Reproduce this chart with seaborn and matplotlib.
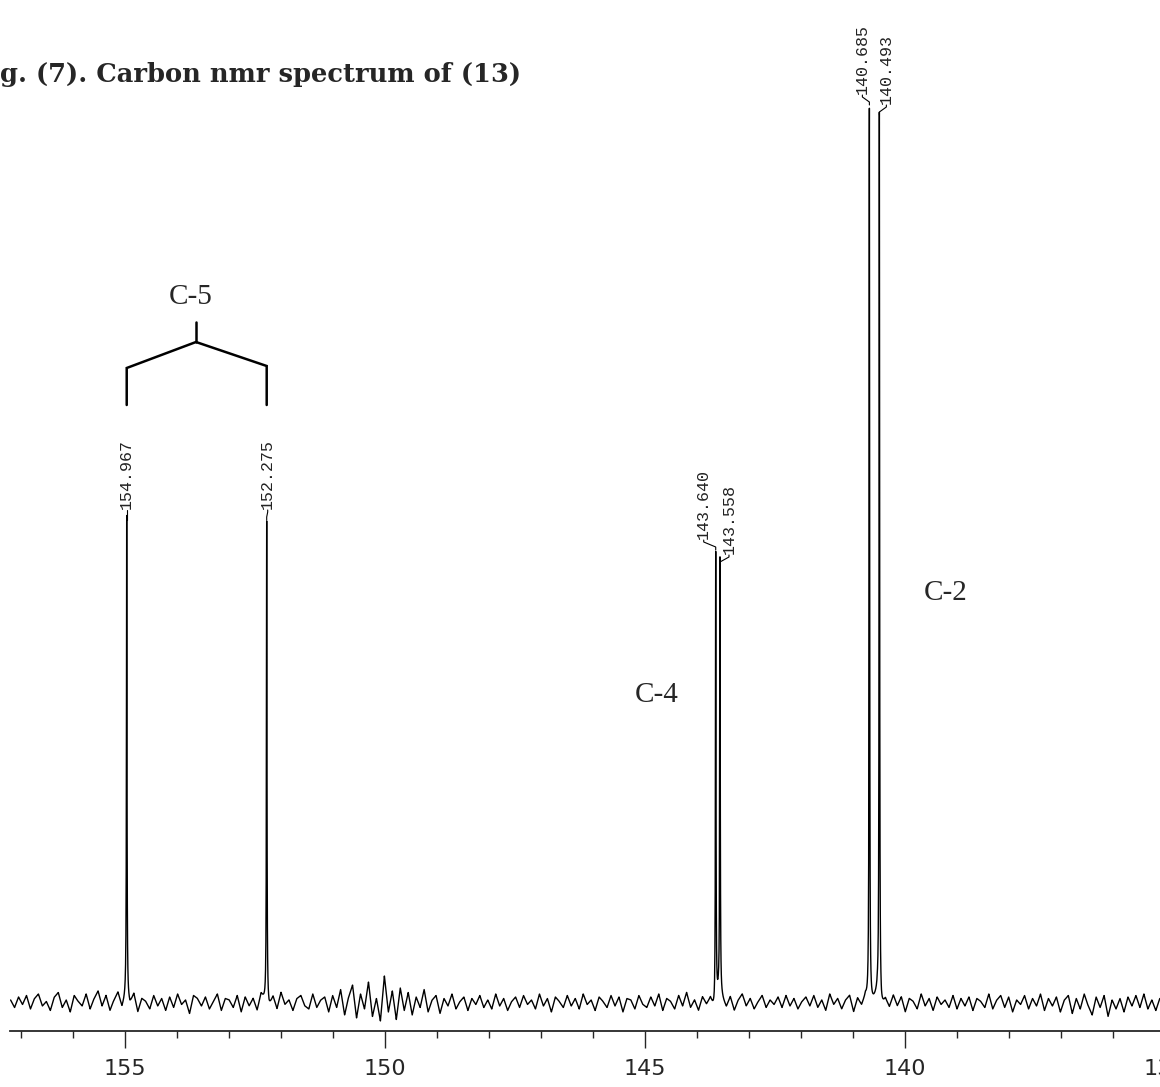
import numpy as np
import pandas as pd
import matplotlib
matplotlib.use("Agg")
import matplotlib.pyplot as plt
from matplotlib.ticker import FixedLocator, MultipleLocator
import seaborn as sns

# ---- data -------------------------------------------------------------
# chemical shifts (ppm) and heights of the resolved lines
peak_ppm = [154.967, 152.275, 143.640, 143.558, 140.685, 140.493]
peak_height = [483, 483, 453, 438, 898, 888]
peak_group = ["C-5", "C-5", "C-4", "C-4", "C-2", "C-2"]

# baseline noise, sampled evenly from 157.2 to 135.1 ppm
noise = [
    2, -3, 4, -1, 5, -4, 3, 6, -2, 1, -5, 4, 7, -3, 2, -6, 5, 1, -2, 6,
    -4, 3, 8, -2, 5, -5, 2, 7, -3, 4, -1, 6, -6, 3, 1, -4, 5, -2, 3, -5,
    4, -3, 6, -1, 2, -7, 5, 3, -2, 4, -4, 1, 6, -5, 3, 2, -3, 5, -6, 4,
    -2, 3, -5, 6, 1, -3, 4, -4, 7, -1, 2, -5, 3, 5, -2, -4, 6, -3, 2, 4,
    -6, 5, -3, 9, -8, 4, 12, -10, 6, -4, 14, -9, 3, -12, 18, -6, 8, -11, 10, -5,
    7, -8, 4, -3, 9, -6, 2, 5, -7, 3, -2, 6, -4, 1, 4, -5, 3, -1, 5, -3,
    2, -4, 6, -2, 3, -5, 1, 4, -3, 5, -1, 2, -4, 6, -2, 3, -6, 4, 1, -3,
    5, -2, 3, -4, 6, -1, 2, -5, 4, 1, -3, 5, -2, 4, -6, 3, 2, -4, 5, -1,
    -3, 4, -2, 6, -5, 3, 1, -4, 5, -2, 7, -3, 2, -5, 4, -1, 3, -6, 5, 2,
    -3, 4, -5, 2, 6, -2, 3, -4, 1, 5, -3, 2, -1, 4, -3, 5, -2, 3, -4, 1,
    4, -2, 5, -3, 2, -5, 6, -1, 3, -4, 2, 5, -6, 3, -2, 4, -3, 1, 6, -4,
    2, -3, 5, -2, 4, -6, 3, 1, -4, 6, -2, 3, -5, 4, -1, 2, -3, 5, -4, 3,
    -2, 4, -5, 3, 1, -3, 6, -4, 2, 5, -3, 4, -6, 2, -1, 5, -4, 3, -2, 6,
    -5, 3, -2, 4, -6, 2, 5, -7, 3, -4, 6, -2, -8, 4, -3, 5, -9, 2, -4, 3,
    -6, 4, -2, 5, -3, 6, -4, 2, -5, 3,
]
noise_scale = 1.5
baseline_level = 28

tick_major = [155, 150, 145, 140, 135]
tick_labels = ["155", "150", "145", "140", "135"]

title_text = "g. (7). Carbon nmr spectrum of (13)"

# ---- build the trace --------------------------------------------------
noise_x = np.linspace(157.2, 135.1, len(noise))
grid = np.union1d(np.linspace(157.2, 135.1, 24000), peak_ppm)
width = 0.006
signal = np.full_like(grid, float(baseline_level))
signal += noise_scale * np.interp(grid, noise_x[::-1],
                                  np.array(noise, float)[::-1])
for p, h in zip(peak_ppm, peak_height):
    signal += h * width**2 / ((grid - p) ** 2 + width**2)
spec = pd.DataFrame({"ppm": grid, "intensity": signal})

# ---- figure -----------------------------------------------------------
sns.set_style("white")
plt.rcParams["font.family"] = ["DejaVu Sans"]

W, H = 1160, 1087
fig = plt.figure(figsize=(W / 100, H / 100), dpi=100)
ax = fig.add_axes([10 / W, 56 / H, 1165 / W, 1031 / H])


def X(px):
    return 155 - (px - 125) / 52


def Y(py):
    return 1031 - py


ax.set_xlim(X(10), X(1175))
ax.set_ylim(0, 1031)

sns.lineplot(data=spec, x="ppm", y="intensity", ax=ax, color="black",
             linewidth=1.0, sort=False, estimator=None)

for s in ["top", "left", "right"]:
    ax.spines[s].set_visible(False)
ax.spines["bottom"].set_linewidth(1.3)
ax.set_yticks([])
ax.set_xlabel("")
ax.set_ylabel("")
ax.xaxis.set_major_locator(FixedLocator(tick_major))
ax.set_xticklabels(tick_labels)
ax.xaxis.set_minor_locator(MultipleLocator(1))
ax.tick_params(axis="x", which="major", length=12, width=1.0, pad=8,
               labelsize=16, bottom=True)
ax.tick_params(axis="x", which="minor", length=5, width=1.0, bottom=True)

# ---- peak labels ------------------------------------------------------
label_dx = [0, 1, -12, 9, -7, 7]
for p, h, dx in zip(peak_ppm, peak_height, label_dx):
    top = baseline_level + h
    px = 125 + (155 - p) * 52
    ax.plot([p, p, X(px + dx), X(px + dx)],
            [top, top + 3, top + 8, top + 10], color="black", lw=0.8)
    ax.text(X(px + dx), top + 11, f"{p:.3f}", rotation=90, ha="center",
            va="bottom", fontsize=12, family="Liberation Mono",
            color="#222222")

# bracket over the C-5 pair
xl, xr = peak_ppm[0], peak_ppm[1]
xm = X(196)
ax.plot([xl, xl, xm, xr, xr], [Y(405), Y(368), Y(342), Y(366), Y(405)],
        color="black", lw=1.8, solid_joinstyle="miter")
ax.plot([xm, xm], [Y(342), Y(322)], color="black", lw=1.8)

serif = ["Liberation Serif", "DejaVu Serif"]
ax.text(X(191), Y(297), "C-5", ha="center", va="center", fontsize=21,
        family=serif)
ax.text(X(657), Y(695), "C-4", ha="center", va="center", fontsize=21,
        family=serif)
ax.text(X(946), Y(593), "C-2", ha="center", va="center", fontsize=21,
        family=serif)

fig.text(0 / W, 1 - 62 / H, title_text, ha="left", va="top", fontsize=18.5,
         fontweight="bold", family=["DejaVu Serif"])

fig.savefig("out.png", dpi=100)
